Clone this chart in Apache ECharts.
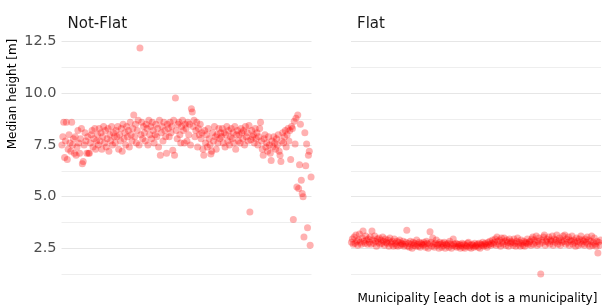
<!DOCTYPE html>
<html>
<head>
<meta charset="utf-8">
<script src="https://cdn.jsdelivr.net/npm/echarts@6/dist/echarts.min.js"></script>
<style>
html,body{margin:0;padding:0;background:#fff;}
#c{width:602px;height:305px;}
</style>
</head>
<body>
<div id="c"></div>
<script>
// Panel titles and axis texts
const panelTitles = ['Not-Flat', 'Flat'];
const yAxisTitle = 'Median height [m]';
const xAxisTitle = 'Municipality [each dot is a municipality]';
const yTickLabels = ['2.5', '5.0', '7.5', '10.0', '12.5'];

// Median height per municipality, Not-Flat group (in municipality order)
const notFlatValues = [
  7.5, 7.9, 8.6, 6.9, 7.7, 8.6, 6.8, 7.3, 8.0, 7.6, 7.2, 8.6, 7.5, 7.8, 7.1, 7.9, 7.0, 7.4, 8.2, 7.6,
  7.1, 7.8, 8.3, 6.6, 6.7, 7.5, 8.1, 7.7, 7.1, 7.9, 7.1, 7.1, 7.6, 8.0, 8.2, 7.4, 7.8, 8.3, 7.3, 7.7,
  8.0, 7.5, 8.3, 7.7, 8.1, 7.3, 7.9, 8.4, 7.6, 8.2, 7.4, 7.8, 8.3, 7.2, 8.0, 7.7, 8.4, 7.5, 8.1, 7.9,
  7.6, 8.2, 7.9, 8.4, 7.3, 8.0, 7.7, 8.3, 7.2, 8.5, 7.8, 8.1, 7.5, 8.4, 7.9, 8.2, 7.4, 8.6, 8.0, 7.7,
  8.3, 8.95, 7.9, 8.5, 7.6, 8.2, 8.7, 7.5, 12.2, 8.0, 8.6, 7.8, 8.4, 8.1, 7.7, 8.5, 8.3, 7.5, 8.7, 8.0,
  8.4, 7.8, 8.6, 8.2, 7.6, 8.0, 8.5, 7.9, 8.3, 7.4, 8.7, 7.0, 8.1, 8.4, 7.7, 8.6, 8.2, 7.9, 7.1, 8.5,
  8.3, 7.9, 8.6, 8.1, 8.4, 7.25, 8.7, 7.0, 9.77, 8.2, 7.8, 8.5, 8.6, 8.0, 7.6, 8.4, 8.7, 8.2, 7.6, 8.5,
  8.3, 7.7, 8.6, 8.0, 8.5, 7.5, 9.25, 9.1, 8.4, 8.7, 7.9, 8.2, 8.6, 7.4, 8.3, 8.0, 8.5, 7.8, 8.1, 7.3,
  7.0, 8.2, 7.6, 8.0, 7.4, 8.3, 7.8, 7.5, 7.07, 7.2, 8.1, 7.7, 8.4, 7.9, 7.3, 8.0, 7.6, 8.3, 7.8, 8.1,
  7.9, 8.3, 7.6, 8.1, 7.4, 8.0, 8.4, 7.7, 8.2, 7.5, 7.9, 8.3, 7.8, 8.1, 7.6, 8.4, 7.3, 8.0, 8.2, 7.7,
  8.0, 7.6, 8.3, 8.1, 7.8, 8.2, 7.5, 8.4, 7.9, 8.1, 7.7, 8.45, 4.26, 7.75, 8.2, 7.9, 8.0, 7.6, 8.3, 7.8,
  8.1, 7.5, 7.9, 8.3, 8.6, 7.7, 7.3, 7.0, 7.8, 8.0, 7.4, 7.6, 7.2, 7.9, 7.5, 7.1, 6.75, 7.7, 7.4, 7.9,
  7.6, 7.3, 7.8, 7.5, 8.0, 7.2, 7.0, 6.7, 7.7, 8.1, 7.6, 7.9, 8.2, 7.4, 8.0, 8.3, 7.7, 8.2, 6.8, 8.4,
  8.3, 3.9, 8.65, 7.55, 8.8, 5.47, 8.95, 5.4, 6.55, 8.5, 5.8, 5.15, 5.0, 3.05, 8.1, 6.5, 7.55, 3.5, 7.0, 7.2,
  2.65, 5.95
];

// Median height per municipality, Flat group (in municipality order)
const flatValues = [
  2.8, 2.95, 2.7, 3.05, 2.75, 3.15, 2.85, 2.65, 2.9, 3.2, 2.8, 2.7, 3.0, 3.34, 2.85, 2.75, 3.1, 2.9, 2.7, 2.95,
  2.8, 3.05, 2.7, 3.34, 2.9, 2.75, 3.1, 2.85, 2.6, 2.95, 2.8, 3.0, 2.7, 2.9, 2.75, 3.05, 2.85, 2.65, 2.95, 2.8,
  2.75, 2.9, 2.6, 3.0, 2.8, 2.7, 2.85, 2.6, 2.95, 2.75, 2.65, 2.85, 2.6, 2.8, 2.9, 2.65, 2.75, 2.7, 2.85, 2.6,
  2.7, 2.8, 3.38, 2.6, 2.75, 2.55, 2.85, 2.7, 2.5, 2.8, 2.65, 2.75, 2.6, 2.9, 2.7, 2.6, 2.8, 2.55, 2.75, 2.7,
  2.65, 2.8, 2.7, 2.55, 2.85, 2.75, 2.5, 2.7, 3.3, 2.8, 2.6, 3.0, 2.7, 2.55, 2.75, 2.9, 2.65, 2.7, 2.5, 2.8,
  2.7, 2.55, 2.75, 2.65, 2.8, 2.5, 2.7, 2.65, 2.75, 2.55, 2.85, 2.7, 2.5, 2.65, 2.95, 2.7, 2.6, 2.75, 2.55, 2.7,
  2.6, 2.7, 2.5, 2.65, 2.75, 2.55, 2.7, 2.5, 2.65, 2.6, 2.75, 2.8, 2.55, 2.65, 2.5, 2.7, 2.65, 2.55, 2.75, 2.6,
  2.65, 2.7, 2.55, 2.75, 2.5, 2.7, 2.65, 2.8, 2.6, 2.7, 2.75, 2.65, 2.55, 2.8, 2.7, 2.85, 2.65, 2.75, 2.9, 2.7,
  2.8, 2.95, 2.65, 3.05, 2.85, 2.7, 2.9, 2.6, 3.0, 2.8, 2.7, 3.0, 2.85, 2.65, 2.9, 2.8, 2.6, 2.95, 2.75, 2.85,
  2.8, 2.65, 2.95, 2.75, 2.6, 2.85, 3.0, 2.7, 2.8, 2.6, 2.9, 2.75, 2.65, 2.85, 2.6, 2.8, 2.75, 2.95, 2.7, 2.8,
  2.85, 2.65, 2.95, 3.05, 2.7, 2.9, 2.8, 3.1, 2.65, 2.85, 3.0, 2.7, 1.26, 2.9, 2.8, 3.05, 3.15, 2.65, 2.85, 2.95,
  2.8, 3.05, 2.7, 2.9, 2.85, 3.1, 2.65, 2.95, 2.8, 2.9, 3.15, 2.7, 2.85, 3.0, 2.65, 2.9, 2.8, 3.1, 2.85, 3.15,
  2.7, 2.95, 2.8, 3.05, 2.65, 2.9, 2.85, 3.1, 2.7, 2.9, 2.8, 2.6, 3.0, 2.85, 2.65, 2.95, 2.8, 3.1, 2.7, 2.9,
  2.85, 2.65, 2.95, 2.8, 3.05, 2.7, 2.9, 2.6, 2.85, 3.1, 2.65, 2.8, 3.0, 2.7, 2.6, 2.85, 2.27, 2.8, 2.65, 2.9
];

const FONT = '"DejaVu Sans", sans-serif';
const chart = echarts.init(document.getElementById('c'), null, {renderer: 'canvas'});

const gridTop = 41.7, gridHeight = 232.5, panelW = 250;

function yAxisFor(gi, showLabels) {
  return {
    type: 'value', gridIndex: gi, min: 1.25, max: 12.5, interval: 1.25,
    axisLine: {show: false}, axisTick: {show: false},
    axisLabel: {
      show: showLabels, color: '#4d4d4d', fontSize: 14.5, fontFamily: FONT, margin: 5,
      formatter: function (v) {
        const s = v.toFixed(1);
        return yTickLabels.indexOf(s) >= 0 ? s : '';
      }
    },
    splitLine: {show: true, lineStyle: {color: ['#eeeeee', '#e6e6e6'], width: 1}}
  };
}
function xAxisFor(gi, n) {
  return {
    type: 'value', gridIndex: gi, min: -0.5, max: n - 0.5,
    axisLine: {show: false}, axisTick: {show: false}, axisLabel: {show: false},
    splitLine: {show: false}
  };
}

const pointStyle = {color: 'rgba(255,0,0,0.38)'};

chart.setOption({
  animation: false,
  backgroundColor: '#ffffff',
  grid: [
    {left: 61.5, top: gridTop, width: panelW, height: gridHeight},
    {left: 351, top: gridTop, width: panelW, height: gridHeight}
  ],
  xAxis: [xAxisFor(0, notFlatValues.length), xAxisFor(1, flatValues.length)],
  yAxis: [yAxisFor(0, true), yAxisFor(1, false)],
  series: [
    {
      type: 'scatter', xAxisIndex: 0, yAxisIndex: 0, symbolSize: 7,
      itemStyle: pointStyle, clip: false,
      data: notFlatValues.map((v, i) => [i, v])
    },
    {
      type: 'scatter', xAxisIndex: 1, yAxisIndex: 1, symbolSize: 7,
      itemStyle: pointStyle, clip: false,
      data: flatValues.map((v, i) => [i, v])
    }
  ],
  graphic: [
    {type: 'text', x: 67.5, y: 24.5, style: {text: panelTitles[0], font: '15px ' + FONT, fill: '#1a1a1a', verticalAlign: 'middle'}},
    {type: 'text', x: 357, y: 24.5, style: {text: panelTitles[1], font: '15px ' + FONT, fill: '#1a1a1a', verticalAlign: 'middle'}},
    {type: 'text', x: 13, y: 94, rotation: Math.PI / 2, style: {text: yAxisTitle, font: '12px ' + FONT, fill: '#000000', align: 'center', verticalAlign: 'middle'}},
    {type: 'text', x: 357.5, y: 299, style: {text: xAxisTitle, font: '12px ' + FONT, fill: '#000000', verticalAlign: 'middle'}}
  ]
});
</script>
</body>
</html>
